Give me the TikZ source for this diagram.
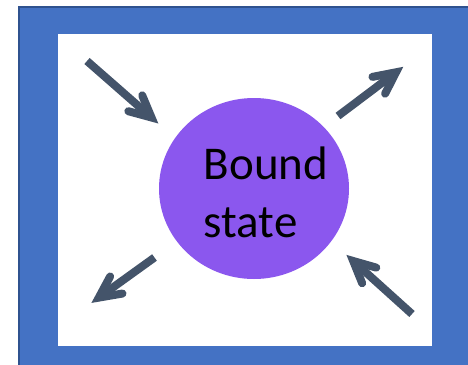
\documentclass[tikz,border=0pt]{standalone}
\usepackage{fontspec}
\setmainfont{Carlito}
\usetikzlibrary{calc,shapes.geometric}
\definecolor{frameblue}{HTML}{4472C4}
\definecolor{frameedge}{HTML}{2F528F}
\definecolor{boundpurple}{HTML}{8B57EE}
\definecolor{slate}{HTML}{44546A}
\tikzset{
  shaft/.style={draw=slate, line width=8pt, line cap=butt},
  barb/.style={draw=slate, line width=8pt, line cap=round, line join=miter, miter limit=10},
}
\begin{document}
\begin{tikzpicture}[x=1pt, y=-1pt]
  \useasboundingbox (0,0) rectangle (468,364);
  \fill[white] (0,0) rectangle (468,364);
  \clip (0,0) rectangle (468,364);
  % outer blue frame and white panel
  \filldraw[fill=frameblue, draw=frameedge, line width=2pt] (19,7) rectangle (480,380);
  \fill[white] (58,34) rectangle (432,346);
  % the bound state
  \node[ellipse, fill=boundpurple, minimum width=190pt, minimum height=181pt, inner sep=0pt]
    (bs) at (254,188.5) {};
  \node[anchor=base west, align=left, inner sep=0pt, font=\fontsize{47}{58}\selectfont]
    (lbl) at (203.5,237) {Bound\\state};
  % incoming and outgoing arrows
  \coordinate (t1) at (87,61);    \coordinate (v1) at (151.5,117.5);
  \coordinate (t2) at (338,116);  \coordinate (v2) at (396,72.3);
  \coordinate (t3) at (154.5,257.5); \coordinate (v3) at (98.8,297.6);
  \coordinate (t4) at (412,314);  \coordinate (v4) at (353.2,261);
  \foreach \i in {1,2,3,4} {
    \draw[shaft] (t\i) -- (v\i);
    \draw[barb] ($(v\i)!24pt!26:(t\i)$) -- (v\i) -- ($(v\i)!24pt!-26:(t\i)$);
  }
\end{tikzpicture}
\end{document}
